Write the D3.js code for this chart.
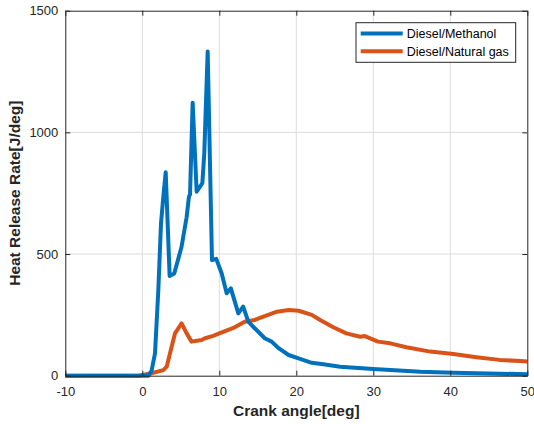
<!DOCTYPE html>
<html>
<head>
<meta charset="utf-8">
<script src="https://cdn.jsdelivr.net/npm/d3@7"></script>
<style>
  body { margin: 0; background: #fff; }
  text { font-family: "Liberation Sans", Arial, sans-serif; }
</style>
</head>
<body>
<div id="chart"></div>
<script>
// Diesel/Methanol heat release rate
var methanolAngle = [-10, 0.8, 1.2, 1.65, 2.08, 2.43, 2.73, 3.04, 3.55, 4.15, 5.1, 5.75, 6.06, 6.2, 6.54, 7.06, 7.8, 8.05, 8.49, 9.05, 9.6, 10.3, 10.96, 11.5, 12.47, 13.1, 13.77, 14.6, 15.9, 16.8, 17.7, 19.0, 20.3, 22.0, 23.5, 25.7, 30, 36.1, 40.4, 45, 50];
var methanolHrr = [0, 0, 20, 92, 352, 626, 736, 836, 410, 420, 530, 650, 736, 745, 1122, 756, 791, 914, 1332, 475, 480, 421, 339, 359, 256, 284, 222, 195, 154, 140, 113, 85, 71, 53, 47, 37, 28, 16, 12, 9, 6];

// Diesel/Natural gas heat release rate
var gasAngle = [-10, -0.5, 1.2, 2.73, 3.17, 3.6, 4.25, 5.1, 5.76, 6.4, 7.7, 8.14, 9.2, 10, 12, 13.3, 14.6, 15.9, 17.5, 19.0, 20.3, 22.0, 23.1, 24.8, 26.5, 28.3, 28.9, 30.6, 32.2, 34.3, 37.4, 40.4, 43.4, 46.4, 49.1, 50];
var gasHrr = [0, 0, 10, 23, 37, 92, 174, 215, 174, 140, 147, 154, 164, 174, 199, 222, 229, 245, 263, 270, 267, 250, 229, 199, 174, 160, 163, 140, 133, 117, 99, 89, 76, 65, 60, 58];

var xTicks = [-10, 0, 10, 20, 30, 40, 50];
var yTicks = [0, 500, 1000, 1500];
var seriesNames = ["Diesel/Methanol", "Diesel/Natural gas"];
var seriesColors = ["#0072BD", "#D95319"];

var width = 534, height = 424;
var margin = { top: 10.7, right: 6.7, bottom: 48.3, left: 65.3 };

var svg = d3.select("#chart").append("svg")
    .attr("width", width)
    .attr("height", height);

var x = d3.scaleLinear().domain([-10, 50]).range([margin.left, width - margin.right]);
var y = d3.scaleLinear().domain([0, 1500]).range([height - margin.bottom, margin.top]);

// grid
svg.append("g").selectAll("line.gx")
    .data(xTicks.slice(1, -1))
    .enter().append("line")
    .attr("x1", function (d) { return x(d); })
    .attr("x2", function (d) { return x(d); })
    .attr("y1", y(0)).attr("y2", y(1500))
    .style("stroke", "#dcdcdc").style("stroke-width", 1);

svg.append("g").selectAll("line.gy")
    .data(yTicks.slice(1, -1))
    .enter().append("line")
    .attr("x1", x(-10)).attr("x2", x(50))
    .attr("y1", function (d) { return y(d); })
    .attr("y2", function (d) { return y(d); })
    .style("stroke", "#dcdcdc").style("stroke-width", 1);

// lines
var line = d3.line()
    .x(function (d) { return x(d[0]); })
    .y(function (d) { return y(d[1]); });

var methanol = d3.zip(methanolAngle, methanolHrr);
var gas = d3.zip(gasAngle, gasHrr);

svg.append("path").datum(gas)
    .attr("d", line)
    .style("fill", "none")
    .style("stroke", seriesColors[1])
    .style("stroke-width", 4)
    .style("stroke-linejoin", "round");

svg.append("path").datum(methanol)
    .attr("d", line)
    .style("fill", "none")
    .style("stroke", seriesColors[0])
    .style("stroke-width", 4)
    .style("stroke-linejoin", "round");

// axes (MATLAB style box, ticks inward)
var plain = function (d) { return String(d); };
var xAxis = d3.axisBottom(x).tickValues(xTicks).tickFormat(plain).tickSizeInner(-5).tickSizeOuter(0).tickPadding(11);
var yAxis = d3.axisLeft(y).tickValues(yTicks).tickFormat(plain).tickSizeInner(-5).tickSizeOuter(0).tickPadding(7);

svg.append("g")
    .attr("transform", "translate(0," + y(0) + ")")
    .call(xAxis);
svg.append("g")
    .attr("transform", "translate(" + x(-10) + ",0)")
    .call(yAxis);

svg.append("g")
    .attr("transform", "translate(0," + y(1500) + ")")
    .call(d3.axisTop(x).tickValues(xTicks).tickSizeInner(-5).tickSizeOuter(0).tickFormat(""));
svg.append("g")
    .attr("transform", "translate(" + x(50) + ",0)")
    .call(d3.axisRight(y).tickValues(yTicks).tickSizeInner(-5).tickSizeOuter(0).tickFormat(""));

svg.selectAll(".domain").style("stroke", "#262626");
svg.selectAll(".tick line").style("stroke", "#262626");
svg.selectAll(".tick text")
    .style("font-size", "13px")
    .style("fill", "#262626")
    .style("font-family", "'Liberation Sans', Arial, sans-serif");

// axis labels
svg.append("text")
    .attr("x", (x(-10) + x(50)) / 2)
    .attr("y", 415.7)
    .attr("text-anchor", "middle")
    .style("font-size", "15.5px")
    .style("font-weight", "bold")
    .style("fill", "#262626")
    .text("Crank angle[deg]");

svg.append("text")
    .attr("transform", "translate(19.5," + (y(750)) + ") rotate(-90)")
    .attr("text-anchor", "middle")
    .style("font-size", "15.5px")
    .style("font-weight", "bold")
    .style("fill", "#262626")
    .text("Heat Release Rate[J/deg]");

// legend
var legend = svg.append("g").attr("transform", "translate(356,22.7)");
legend.append("rect")
    .attr("width", 159.7).attr("height", 39.6)
    .style("fill", "#fff")
    .style("stroke", "#262626")
    .style("stroke-width", 1);

var items = legend.selectAll("g.item")
    .data(seriesNames)
    .enter().append("g")
    .attr("transform", function (d, i) { return "translate(0," + (10.8 + i * 17.7) + ")"; });

items.append("line")
    .attr("x1", 4.7).attr("x2", 46.7)
    .attr("y1", 0).attr("y2", 0)
    .style("stroke", function (d, i) { return seriesColors[i]; })
    .style("stroke-width", 4);

items.append("text")
    .attr("x", 50.7)
    .attr("y", 4.8)
    .style("font-size", "12.5px")
    .style("fill", "#000")
    .text(function (d) { return d; });
</script>
</body>
</html>
